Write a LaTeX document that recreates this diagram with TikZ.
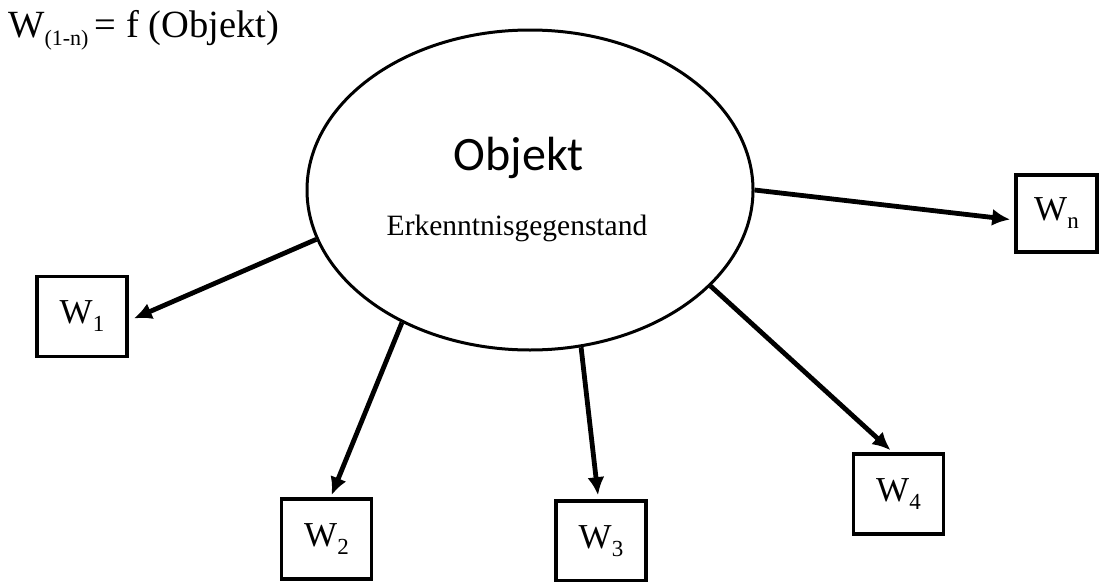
\documentclass[tikz,border=0pt]{standalone}
\usepackage{fontspec}
\setmainfont{Liberation Serif}
\newfontfamily\objfont{Carlito}
\usetikzlibrary{arrows.meta,calc,shapes.geometric}

\tikzset{
  wbox/.style={draw, line width=3.6pt, minimum width=90pt, minimum height=80pt,
               inner sep=0pt, font=\fontsize{35}{35}\selectfont},
  link/.style={line width=4.8pt, -{Latex[length=18pt,width=17pt]}},
}
\newcommand{\wsub}[1]{W\raisebox{-8pt}{\fontsize{23}{23}\selectfont #1}}

\begin{document}
\begin{tikzpicture}[x=1pt,y=-1pt]
  \useasboundingbox (0,0) rectangle (1100,581);

  % formula in the upper left corner
  \node[anchor=base west, inner sep=0pt, font=\fontsize{38.5}{38.5}\selectfont] (formula) at (8,37)
    {W\raisebox{-8pt}{\fontsize{22}{22}\selectfont (1-n)}\,= f (Objekt)};

  % the object of knowledge
  \node[draw, ellipse, line width=3pt, minimum width=446pt, minimum height=320pt,
        inner sep=0pt] (obj) at (530,190) {};
  \node[font=\objfont\fontsize{48}{48}\selectfont] (objtitle) at (519,158) {Objekt};
  \node[font=\fontsize{29.5}{29.5}\selectfont] (objsub) at (517,228) {Erkenntnisgegenstand};

  % the individual views
  \node[wbox] (w1) at (82,316.5) {\wsub{1}};
  \node[wbox] (w2) at (326.5,539) {\wsub{2}};
  \node[wbox] (w3) at (601,541) {\wsub{3}};
  \node[wbox] (w4) at (898.5,494) {\wsub{4}};
  \node[wbox, minimum width=81pt, minimum height=77pt] (wn) at (1056.5,213.5) {\wsub{n}};

  % connectors
  \draw[link] (obj.193.8) -- ($(w1.east)+(5,2)$);
  \draw[link] (obj.226.7) -- ($(w2.north)+(5,-2)$);
  \draw[link] (obj.288.4) -- ($(w3.north)+(-3,-4)$);
  \draw[link] (obj.332.6) -- ($(w4.north)+(-8,-2)$);
  \draw[link] (obj.0.5) -- ($(wn.west)+(-4,6)$);
\end{tikzpicture}
\end{document}
